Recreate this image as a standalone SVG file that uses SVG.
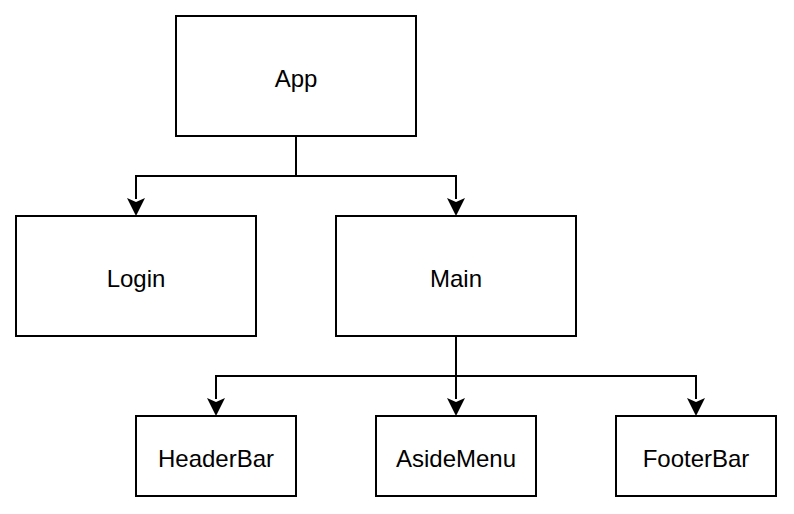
<svg xmlns="http://www.w3.org/2000/svg" width="794" height="514" viewBox="0 0 794 514">
<style>
.box{fill:#fff;stroke:#000;stroke-width:2}
.lbl{font-family:"Liberation Sans",Arial,sans-serif;font-size:24px;fill:#000;text-anchor:middle}
.edge{fill:none;stroke:#000;stroke-width:2}
</style>
<defs>
<marker id="arr" markerUnits="userSpaceOnUse" markerWidth="20" markerHeight="20" viewBox="-10 -19 20 20" refX="0" refY="0" orient="auto-start-reverse">
<path d="M0,0 L-9,-18 L0,-14 L9,-18 Z" fill="#000" transform="rotate(-90)"/>
</marker>
</defs>
<rect width="794" height="514" fill="#fff"/>
<g id="connectors">
<path class="edge" d="M296,136 V176 H136 V199"/>
<path class="edge" d="M296,176 H456 V199"/>
<path class="edge" d="M456,336 V376 H216 V399"/>
<path class="edge" d="M456,336 V399"/>
<path class="edge" d="M456,376 H696 V399"/>
<path d="M136,216 L127,198 L136,202 L145,198 Z" fill="#000"/>
<path d="M456,216 L447,198 L456,202 L465,198 Z" fill="#000"/>
<path d="M216,416 L207,398 L216,402 L225,398 Z" fill="#000"/>
<path d="M456,416 L447,398 L456,402 L465,398 Z" fill="#000"/>
<path d="M696,416 L687,398 L696,402 L705,398 Z" fill="#000"/>
</g>
<g id="app"><rect class="box" x="176" y="16" width="240" height="120"/><text class="lbl" x="296" y="86.5">App</text></g>
<g id="login"><rect class="box" x="16" y="216" width="240" height="120"/><text class="lbl" x="136" y="286.5">Login</text></g>
<g id="main"><rect class="box" x="336" y="216" width="240" height="120"/><text class="lbl" x="456" y="286.5">Main</text></g>
<g id="headerbar"><rect class="box" x="136" y="416" width="160" height="80"/><text class="lbl" x="216" y="466.5">HeaderBar</text></g>
<g id="asidemenu"><rect class="box" x="376" y="416" width="160" height="80"/><text class="lbl" x="456" y="466.5">AsideMenu</text></g>
<g id="footerbar"><rect class="box" x="616" y="416" width="160" height="80"/><text class="lbl" x="696" y="466.5">FooterBar</text></g>
</svg>
